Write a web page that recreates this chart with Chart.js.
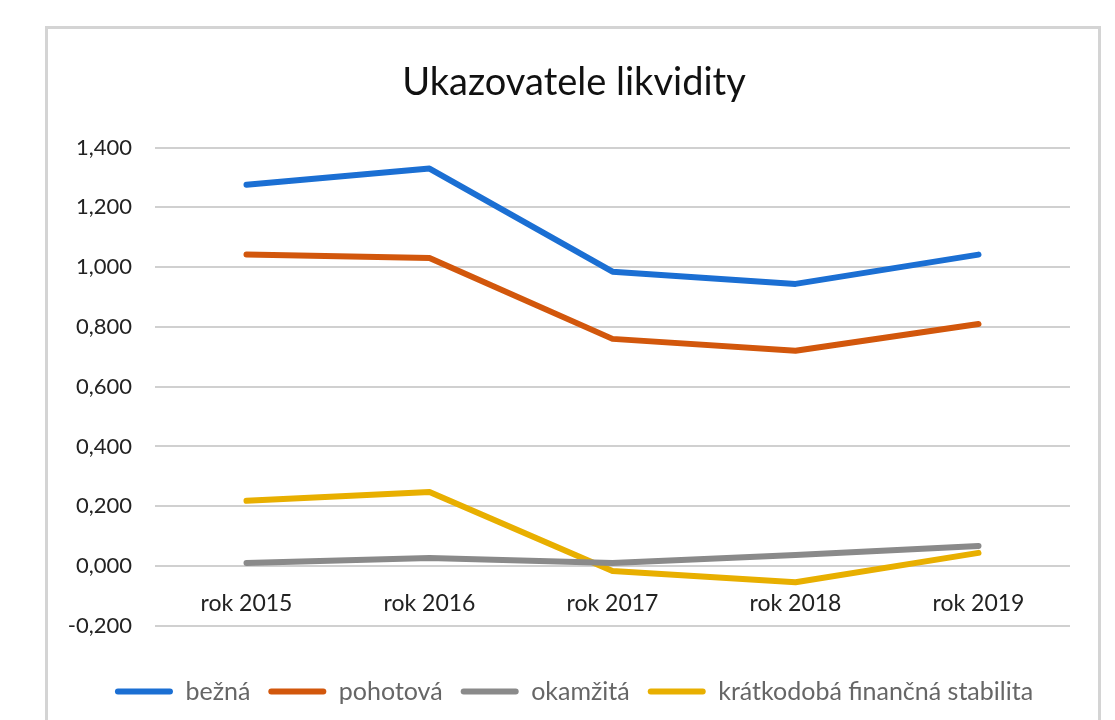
<!DOCTYPE html>
<html lang="sk">

<head>
    <meta charset="UTF-8">
    <title>Ukazovatele likvidity</title>
    <script src="https://cdn.jsdelivr.net/npm/chart.js"></script>
    <style>
        html,
        body {
            margin: 0;
            padding: 0;
            background: #fff;
        }

        .ramik {
            position: absolute;
            left: 45px;
            top: 26px;
            width: 1050px;
            height: 700px;
            border: 3px solid #d4d4d4;
            border-bottom: none;
            background: white;
        }
    </style>
</head>

<body>
    <div class="ramik">
        <canvas id="likviditaChart"></canvas>
    </div>

    <script>
        const roky = ['rok 2015', 'rok 2016', 'rok 2017', 'rok 2018', 'rok 2019'];
        const bezna = [1.276, 1.330, 0.985, 0.944, 1.042];
        const pohotova = [1.042, 1.031, 0.760, 0.720, 0.810];
        const okamzita = [0.010, 0.027, 0.010, 0.037, 0.067];
        const kratkodoba = [0.218, 0.248, -0.017, -0.054, 0.044];

        const pismo = "Lato, 'Liberation Sans', sans-serif";

        function seria(nazov, data, farba) {
            return {
                label: nazov,
                data: data,
                borderColor: farba,
                backgroundColor: farba,
                borderWidth: 6,
                borderCapStyle: 'round',
                borderJoinStyle: 'round',
                pointRadius: 0,
                tension: 0,
                fill: false
            };
        }

        // nadpis a legenda su v Exceli centrovane na cely ramik, nie len na plochu vpravo
        const posunStred = {
            id: 'posunStred',
            afterLayout: function (chart) {
                [chart.titleBlock, chart.legend].forEach(function (b) {
                    b.left += 15;
                    b.right += 15;
                });
            }
        };

        const ctx = document.getElementById('likviditaChart').getContext('2d');
        ctx.canvas.width = 1050;
        ctx.canvas.height = 694;

        new Chart(ctx, {
            type: 'line',
            data: {
                labels: roky,
                datasets: [
                    seria('bežná', bezna, '#1b6fd3'),
                    seria('pohotová', pohotova, '#d2570c'),
                    seria('okamžitá', okamzita, '#8a8a8a'),
                    seria('krátkodobá finančná stabilita', kratkodoba, '#e8af00')
                ]
            },
            plugins: [posunStred],
            options: {
                responsive: false,
                animation: false,
                layout: {
                    padding: { left: 0, right: 28, top: 0, bottom: 9 }
                },
                plugins: {
                    title: {
                        display: true,
                        text: 'Ukazovatele likvidity',
                        color: '#111',
                        font: { family: pismo, size: 38, weight: 'normal' },
                        padding: { top: 31, bottom: 42 }
                    },
                    legend: {
                        position: 'bottom',
                        title: {
                            display: true,
                            text: ' ',
                            font: { size: 1 },
                            padding: { top: 34, bottom: 0 }
                        },
                        labels: {
                            color: '#222',
                            font: { family: pismo, size: 25 },
                            boxWidth: 58,
                            boxHeight: 6,
                            padding: 18,
                            generateLabels: function (chart) {
                                return chart.data.datasets.map(function (ds, i) {
                                    return {
                                        text: ds.label,
                                        fillStyle: ds.borderColor,
                                        strokeStyle: ds.borderColor,
                                        lineWidth: 0,
                                        borderRadius: 3,
                                        hidden: false,
                                        datasetIndex: i
                                    };
                                });
                            },
                            useBorderRadius: true
                        }
                    },
                    tooltip: { enabled: false }
                },
                scales: {
                    x: {
                        position: { y: 0 },
                        offset: true,
                        grid: { display: false, drawTicks: false },
                        border: { display: false },
                        ticks: {
                            color: '#222',
                            font: { family: pismo, size: 23 },
                            padding: 24,
                            maxRotation: 0
                        }
                    },
                    y: {
                        min: -0.2,
                        max: 1.4,
                        afterFit: function (scale) { scale.width = 107; },
                        grid: { color: '#d0d0d0', lineWidth: 2, drawTicks: false },
                        border: { display: false },
                        ticks: {
                            stepSize: 0.2,
                            color: '#222',
                            padding: 23,
                            font: { family: pismo, size: 22 },
                            callback: function (v) {
                                const r = Math.round(v * 1000) / 1000;
                                return (r === 0 ? 0 : r).toFixed(3).replace('.', ',');
                            }
                        }
                    }
                }
            }
        });
    </script>

</body>

</html>
